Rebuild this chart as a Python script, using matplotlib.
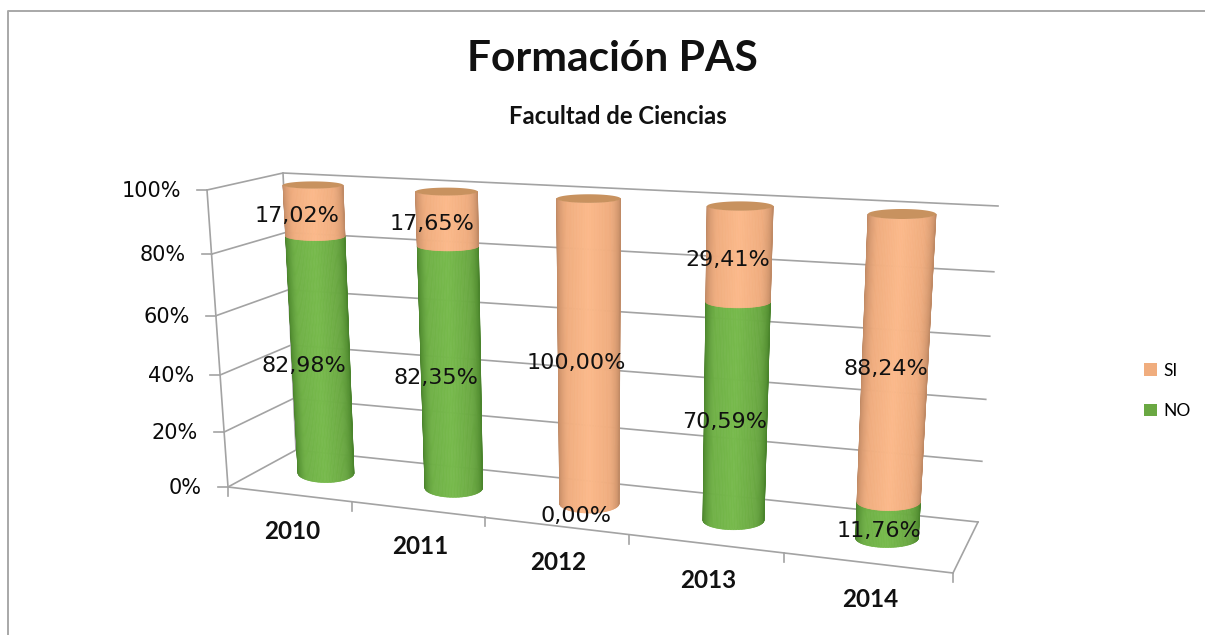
import numpy as np
import matplotlib
matplotlib.use('Agg')
import matplotlib.pyplot as plt
from matplotlib.collections import PolyCollection
from matplotlib.colors import LinearSegmentedColormap
from matplotlib.patches import Patch, Polygon

# Data
years = ['2010', '2011', '2012', '2013', '2014']
no_pct = [82.98, 82.35, 0.00, 70.59, 11.76]
si_pct = [17.02, 17.65, 100.00, 29.41, 88.24]
value_ticks = [0, 20, 40, 60, 80, 100]

GREEN = '#6aa842'
ORANGE = '#f0ad7e'
LINE = '#a3a3a3'


def homography(src, dst):
    # 4 point projective map, used as the chart's 3D scale
    rows = []
    for (a, b), (x, y) in zip(src, dst):
        rows.append([a, b, 1, 0, 0, 0, -a * x, -b * x, -x])
        rows.append([0, 0, 0, a, b, 1, -a * y, -b * y, -y])
    return np.linalg.svd(np.array(rows, dtype=float))[2][-1].reshape(3, 3)


def apply(h, a, b):
    p = h @ np.array([a, b, 1.0])
    return p[0] / p[2], p[1] / p[2]


n = len(years)
back = homography([(0, 0), (n, 0), (0, 100), (n, 100)],
                  [(296, 450), (978, 522), (283, 173), (998, 206)])
side = homography([(0, 0), (1, 0), (0, 100), (1, 100)],
                  [(228, 487), (296, 450), (207, 190), (283, 173)])
floor = homography([(0, 0), (n, 0), (0, 1), (n, 1)],
                   [(228, 487), (953, 573), (296, 450), (978, 522)])
cols = homography([(0.5, 0), (n - 0.5, 0), (0.5, 100), (n - 0.5, 100)],
                  [(326, 473), (887, 538), (313, 185), (902, 214)])

fig = plt.figure(figsize=(12.05, 6.35), dpi=100)
ax = fig.add_axes([0, 0, 1, 1])
ax.set_xlim(0, 1205)
ax.set_ylim(635, 0)
ax.axis('off')

# outer chart frame
ax.plot([8, 8, 1205], [635, 11, 11], color='#a8a8a8', lw=1.4)

# walls and gridlines
for v in value_ticks:
    p0 = apply(side, 0, v)
    p1 = apply(side, 1, v)
    p2 = apply(back, n, v)
    ax.plot([p0[0], p1[0], p2[0]], [p0[1], p1[1], p2[1]], color=LINE, lw=1.2)
    ax.plot([p0[0] - 10, p0[0]], [p0[1], p0[1]], color=LINE, lw=1.2)
    ax.text(p0[0] - 26, p0[1] + 1, f'{v}%', ha='right', va='center',
            fontsize=15, color='#0a0a0a')
ax.plot(*zip(apply(side, 0, 0), apply(side, 0, 100)), color=LINE, lw=1.2)
ax.plot(*zip(apply(side, 1, 0), apply(side, 1, 100)), color=LINE, lw=1.2)
ax.plot(*zip(apply(floor, 0, 0), apply(floor, n, 0)), color=LINE, lw=1.2)
ax.plot(*zip(apply(floor, n, 0), apply(floor, n, 1)), color=LINE, lw=1.2)
for i in range(n + 1):
    x, y = apply(floor, i, 0)
    ax.plot([x, x], [y, y + 9], color=LINE, lw=1.2)

green_map = LinearSegmentedColormap.from_list('g', ['#477f2a', '#6fb046', '#77ba4c', '#6aa842', '#4a842c'])
orange_map = LinearSegmentedColormap.from_list('o', ['#bd8763', '#efac7e', '#fbb98a', '#efac7e', '#c08a65'])


def half_width(i, v):
    return (28 + 0.85 * i) * (1 - v / 100) + (30 + 1.0 * i) * (v / 100)


def half_height(i, v):
    return 9.5 * (1 - v / 100) + (3.6 + 0.35 * i) * (v / 100)


def ring(i, v, thetas):
    cx, cy = apply(cols, i + 0.5, v)
    return np.column_stack([cx + half_width(i, v) * np.cos(thetas),
                            cy + half_height(i, v) * np.sin(thetas)])


def draw_segment(i, v0, v1, cmap):
    thetas = np.linspace(np.pi, 0, 61)
    low = ring(i, v0, thetas)
    high = ring(i, v1, thetas)
    polys = [[low[k], low[k + 1], high[k + 1], high[k]] for k in range(60)]
    shades = [cmap(k / 59) for k in range(60)]
    strips = PolyCollection(polys, facecolors=shades, edgecolors=shades,
                            linewidths=0.5, zorder=3 + i)
    strips.set_snap(False)
    ax.add_collection(strips)


# columns
for i in range(n):
    if no_pct[i] > 0:
        draw_segment(i, 0, no_pct[i], green_map)
    draw_segment(i, no_pct[i], 100, orange_map)
    top = ring(i, 100, np.linspace(0, 2 * np.pi, 80))
    ax.add_patch(Polygon(top, closed=True, facecolor='#c8925f', edgecolor='none', zorder=3 + i))

# data labels
for i in range(n):
    dx = -17 + 2 * i
    for start, val in [(0, no_pct[i]), (no_pct[i], si_pct[i])]:
        if val == 0 and i != 2:
            continue
        mid = start + val / 2
        x, y = apply(cols, i + 0.5, mid)
        ax.text(x + dx, y + 12 - 0.07 * mid, f'{val:.2f}%'.replace('.', ','),
                ha='center', va='center', fontsize=16, color='#111111', zorder=20)

# category labels
for i, year in enumerate(years):
    x, y = apply(floor, i + 0.5, 0)
    ax.text(x + 3, y + 37, year, ha='center', va='center', fontsize=17.5,
            fontweight='bold', family='Lato', color='#111111')

ax.text(612.5, 59, 'Formación PAS', ha='center', va='center', fontsize=30.6,
        fontweight='bold', family='Lato', color='#111111')
ax.text(617.5, 116, 'Facultad de Ciencias', ha='center', va='center', fontsize=17.2,
        fontweight='bold', family='Lato', color='#111111')

handles = [Patch(facecolor=ORANGE, label='SI'), Patch(facecolor=GREEN, label='NO')]
ax.legend(handles=handles, loc='center left', bbox_to_anchor=(1128, 391), bbox_transform=ax.transData,
          frameon=False, handlelength=0.75, handleheight=0.75, handletextpad=0.4, labelspacing=1.4,
          prop={'family': 'Lato', 'size': 12.5})

plt.savefig('out.png', dpi=100)
